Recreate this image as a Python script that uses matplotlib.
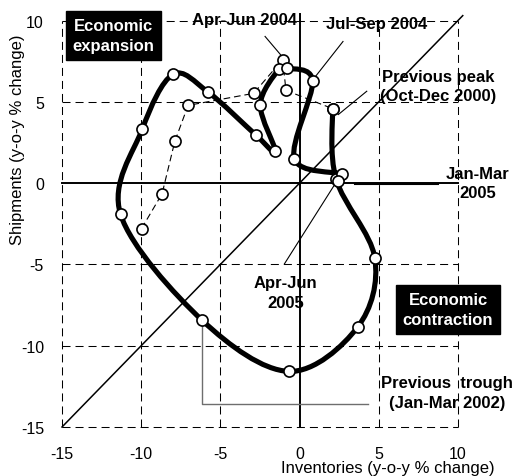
import numpy as np
import matplotlib
matplotlib.use("Agg")
import matplotlib.pyplot as plt
from matplotlib.path import Path
from matplotlib.patches import PathPatch

plt.rcParams['font.family'] = ['Liberation Sans', 'DejaVu Sans']
plt.rcParams['axes.unicode_minus'] = False

# ---- data ----
# Current cycle (Oct-Dec 2000 -> Apr-Jun 2005), thick smoothed line
inv_cycle = [2.08, 2.30, 4.75, 3.66, -0.69, -6.15, -11.30, -9.94, -8.00, -5.78,
             -2.73, -1.53, -2.48, -1.32, -0.79, 0.82, -0.33, 2.67, 2.40]
ship_cycle = [4.58, 0.25, -4.61, -8.86, -11.58, -8.44, -1.93, 3.30, 6.68, 5.60,
              2.93, 1.95, 4.82, 6.99, 7.07, 6.27, 1.50, 0.54, 0.15]
# Previous period (thin dashed line)
inv_prev = [-9.98, -8.68, -7.88, -7.04, -2.90, -1.07, -0.86, 2.08]
ship_prev = [-2.80, -0.65, 2.56, 4.78, 5.52, 7.60, 5.70, 4.58]

x_ticks = [-15, -10, -5, 0, 5, 10]
y_ticks = [-15, -10, -5, 0, 5, 10]
x_label = "Inventories (y-o-y % change)"
y_label = "Shipments (y-o-y % change)"

W, H = 516, 477
fig = plt.figure(figsize=(W / 100, H / 100), dpi=100)
ax = fig.add_axes([62 / W, (H - 428) / H, 396 / W, (428 - 21.5) / H])
ax.set_xlim(-15, 10)
ax.set_ylim(-15, 10)
for s in ax.spines.values():
    s.set_visible(False)
ax.set_xticks(x_ticks)
ax.set_yticks(y_ticks)
ax.tick_params(length=0, labelsize=11.5)
ax.tick_params(axis='x', pad=14)
ax.tick_params(axis='y', pad=13)

dash = (0, (7.7, 4.8))
for v in [-15, -10, -5, 5, 10]:
    ax.axvline(v, color='black', lw=0.75, ls=dash, clip_on=False, zorder=1)
    ax.axhline(v, color='black', lw=0.75, ls=dash, clip_on=False, zorder=1)
ax.axhline(0, color='black', lw=1.4, clip_on=False, zorder=2)
ax.plot([0, 0], [-15, 10.4], color='black', lw=1.4, clip_on=False, zorder=2)
ax.plot([-15, 10.3], [-15, 10.3], color='black', lw=1.1, clip_on=False, zorder=2)

# leader lines
lk = dict(color='black', lw=0.8, clip_on=False, zorder=2)
ax.plot([-2.18, -1.1], [9.02, 7.78], **lk)
ax.plot([2.74, 0.85], [8.71, 6.37], **lk)
ax.plot([4.24, 2.45], [5.65, 4.22], **lk)
ax.plot([3.5, 8.74], [-0.06, -0.06], color='black', lw=1.5, zorder=2)
ax.plot([-0.96, 2.37], [-4.97, 0.15], **lk)
ax.plot([4.32, -6.15, -6.15], [-13.57, -13.57, -8.52], color='#6e6e6e', lw=1.0, zorder=2)

# previous period: thin dashed line
ax.plot(inv_prev, ship_prev, color='black', lw=0.8, ls=(0, (6, 3.5)), zorder=3)
ax.plot(inv_prev, ship_prev, ls='none', marker='o', ms=8, mfc='white',
        mec='black', mew=1.2, zorder=6)

# current cycle: thick smoothed line (Bezier through the data points)
def smooth_path(xs, ys):
    pts = np.column_stack([xs, ys]).astype(float)
    n = len(pts)
    verts = [pts[0]]
    codes = [Path.MOVETO]
    for i in range(n - 1):
        p0 = pts[i - 1] if i > 0 else pts[i]
        p1 = pts[i]
        p2 = pts[i + 1]
        p3 = pts[i + 2] if i + 2 < n else pts[i + 1]
        verts += [p1 + (p2 - p0) / 6, p2 - (p3 - p1) / 6, p2]
        codes += [Path.CURVE4] * 3
    return Path(verts, codes)

ax.add_patch(PathPatch(smooth_path(inv_cycle, ship_cycle), fill=False, ec='black',
                       lw=3.7, capstyle='round', joinstyle='round', zorder=4))
ax.plot(inv_cycle, ship_cycle, ls='none', marker='o', ms=8, mfc='white',
        mec='black', mew=1.2, zorder=6)

# annotations
tb = dict(fontsize=12, fontweight='bold', ha='center', va='center', zorder=7,
          linespacing=1.4)
ax.text(-3.5, 10.06, "Apr-Jun 2004", **tb)
ax.text(4.89, 9.82, "Jul-Sep 2004", **tb)
ax.text(8.74, 5.97, "Previous peak\n(Oct-Dec 2000)", **tb)
ax.text(11.26, 0.0, "Jan-Mar\n2005", **tb)
ax.text(-0.88, -6.74, "Apr-Jun\n2005", **tb)
ax.text(9.31, -12.86, "Previous  trough\n(Jan-Mar 2002)", **tb)
ax.text(-11.75, 9.08, "Economic\nexpansion", color='white',
        bbox=dict(boxstyle='square,pad=0.42', fc='black', ec='black'), **tb)
ax.text(9.37, -7.78, "Economic\ncontraction", color='white',
        bbox=dict(boxstyle='square,pad=0.42', fc='black', ec='black'), **tb)

fig.text(388 / W, 1 - 469 / H, x_label, fontsize=12, ha='center', va='center')
fig.text(18 / W, 1 - 140 / H, y_label, fontsize=12, ha='center', va='center',
         rotation=90)

fig.savefig("out.png", dpi=100)
